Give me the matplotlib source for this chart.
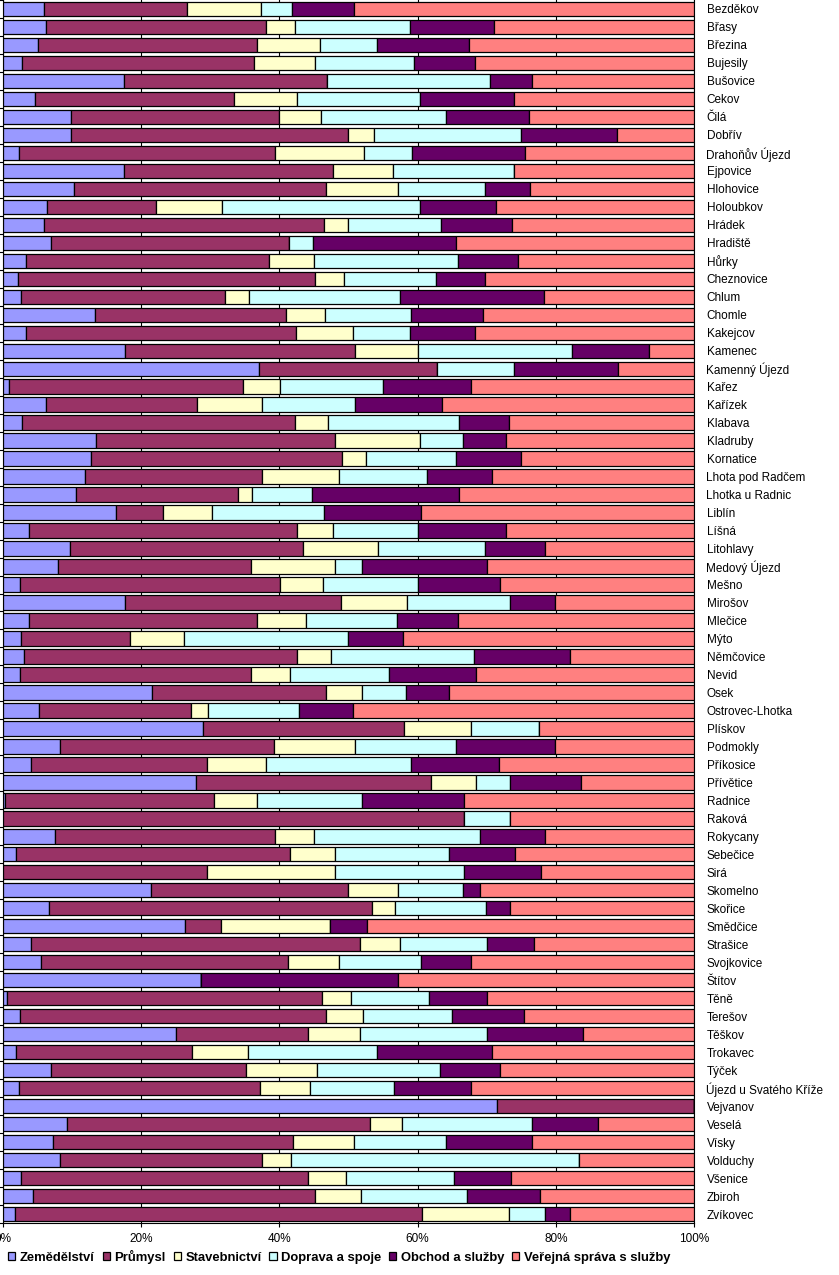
import numpy as np
import matplotlib
matplotlib.use("Agg")
import matplotlib.pyplot as plt

plt.rcParams['font.family'] = ['Liberation Sans', 'DejaVu Sans']

# obce (shora dolů)
obce = [
    "Bezděkov", "Břasy", "Březina", "Bujesily", "Bušovice", "Cekov",
    "Čilá", "Dobřív", "Drahoňův Újezd", "Ejpovice", "Hlohovice", "Holoubkov",
    "Hrádek", "Hradiště", "Hůrky", "Cheznovice", "Chlum", "Chomle",
    "Kakejcov", "Kamenec", "Kamenný Újezd", "Kařez", "Kařízek", "Klabava",
    "Kladruby", "Kornatice", "Lhota pod Radčem", "Lhotka u Radnic", "Liblín", "Líšná",
    "Litohlavy", "Medový Újezd", "Mešno", "Mirošov", "Mlečice", "Mýto",
    "Němčovice", "Nevid", "Osek", "Ostrovec-Lhotka", "Plískov", "Podmokly",
    "Příkosice", "Přívětice", "Radnice", "Raková", "Rokycany", "Sebečice",
    "Sirá", "Skomelno", "Skořice", "Smědčice", "Strašice", "Svojkovice",
    "Štítov", "Těně", "Terešov", "Těškov", "Trokavec", "Týček",
    "Újezd u Svatého Kříže", "Vejvanov", "Veselá", "Vísky", "Volduchy", "Všenice",
    "Zbiroh", "Zvíkovec",
]

zemedelstvi = [
    5.9, 6.2, 5.0, 2.7, 17.5, 4.6,
    9.9, 9.9, 2.3, 17.5, 10.3, 6.3,
    5.9, 6.9, 3.4, 2.1, 2.6, 13.3,
    3.4, 17.7, 37.1, 0.8, 6.2, 2.8,
    13.5, 12.8, 11.9, 10.6, 16.3, 3.7,
    9.7, 7.9, 2.5, 17.7, 3.7, 2.6,
    3.0, 2.4, 21.5, 5.2, 29.0, 8.2,
    4.1, 27.9, 0.3, 0.0, 7.5, 1.9,
    0.0, 21.4, 6.6, 26.3, 4.0, 5.5,
    28.6, 0.6, 2.5, 25.0, 1.9, 7.0,
    2.3, 71.5, 9.3, 7.2, 8.3, 2.6, 4.4, 1.7,
]
prumysl = [
    20.8, 31.9, 31.8, 33.6, 29.4, 28.9,
    30.0, 40.0, 37.1, 30.2, 36.4, 15.8,
    40.6, 34.5, 35.1, 43.0, 29.5, 27.6,
    39.0, 33.3, 25.7, 34.0, 21.9, 39.5,
    34.6, 36.2, 25.6, 23.4, 6.9, 38.8,
    33.7, 28.0, 37.6, 31.2, 33.1, 15.8,
    39.5, 33.5, 25.3, 22.0, 29.0, 31.0,
    25.4, 34.1, 30.3, 66.7, 31.8, 39.6,
    29.5, 28.5, 46.8, 5.2, 47.7, 35.7,
    0.0, 45.5, 44.2, 19.2, 25.5, 28.1,
    34.9, 28.5, 43.8, 34.8, 29.2, 41.5, 40.7, 59.0,
]
stavebnictvi = [
    10.6, 4.2, 9.1, 8.8, 0.0, 9.1,
    6.1, 3.8, 12.9, 8.8, 10.4, 9.6,
    3.4, 0.0, 6.5, 4.3, 3.5, 5.7,
    8.2, 9.1, 0.0, 5.3, 9.4, 4.7,
    12.3, 3.6, 11.1, 2.1, 7.1, 5.2,
    10.8, 12.1, 6.2, 9.6, 7.1, 7.8,
    4.9, 5.6, 5.1, 2.5, 9.7, 11.8,
    8.6, 6.4, 6.2, 0.0, 5.7, 6.6,
    18.6, 7.2, 3.3, 15.8, 5.8, 7.4,
    0.0, 4.2, 5.4, 7.4, 8.0, 10.4,
    7.3, 0.0, 4.7, 8.8, 4.2, 5.5, 6.7, 12.5,
]
doprava = [
    4.5, 16.6, 8.2, 14.4, 23.6, 17.7,
    18.1, 21.3, 6.9, 17.4, 12.7, 28.6,
    13.5, 3.4, 20.9, 13.3, 21.8, 12.4,
    8.3, 22.2, 11.2, 14.9, 13.5, 19.0,
    6.2, 12.9, 12.8, 8.6, 16.2, 12.4,
    15.6, 3.9, 13.8, 14.8, 13.1, 23.7,
    20.8, 14.4, 6.4, 13.1, 9.8, 14.5,
    21.0, 5.0, 15.1, 6.7, 24.0, 16.4,
    18.6, 9.5, 13.2, 0.0, 12.5, 11.9,
    0.0, 11.3, 12.9, 18.5, 18.7, 17.7,
    12.1, 0.0, 18.8, 13.3, 41.7, 15.7, 15.3, 5.3,
]
obchod = [
    9.0, 12.1, 13.3, 8.8, 6.0, 13.7,
    12.0, 13.8, 16.4, 0.0, 6.5, 11.1,
    10.3, 20.7, 8.6, 7.1, 20.9, 10.5,
    9.4, 11.2, 15.0, 12.7, 12.5, 7.2,
    6.2, 9.4, 9.4, 21.3, 14.0, 12.7,
    8.6, 18.1, 11.8, 6.6, 8.8, 8.0,
    13.9, 12.5, 6.2, 7.8, 0.0, 14.4,
    12.7, 10.2, 14.8, 0.0, 9.5, 9.6,
    11.1, 2.4, 3.5, 5.4, 6.9, 7.3,
    28.5, 8.5, 10.4, 13.8, 16.6, 8.7,
    11.1, 0.0, 9.5, 12.5, 0.0, 8.2, 10.6, 3.6,
]
verejna = [
    49.2, 29.0, 32.6, 31.7, 23.5, 26.0,
    23.9, 11.2, 24.4, 26.1, 23.7, 28.6,
    26.3, 34.5, 25.5, 30.2, 21.7, 30.5,
    31.7, 6.5, 11.0, 32.3, 36.5, 26.8,
    27.2, 25.1, 29.2, 34.0, 39.5, 27.2,
    21.6, 30.0, 28.1, 20.1, 34.2, 42.1,
    17.9, 31.6, 35.5, 49.4, 22.5, 20.1,
    28.2, 16.4, 33.3, 26.6, 21.5, 25.9,
    22.2, 31.0, 26.6, 47.3, 23.1, 32.2,
    42.9, 29.9, 24.6, 16.1, 29.3, 28.1,
    32.3, 0.0, 13.9, 23.4, 16.6, 26.5, 22.3, 17.9,
]

sektory = ["Zemědělství", "Průmysl", "Stavebnictví", "Doprava a spoje",
           "Obchod a služby", "Veřejná správa s služby"]
barvy = ["#9999FF", "#993366", "#FFFFCC", "#CCFFFF", "#660066", "#FF8080"]

data = np.array([zemedelstvi, prumysl, stavebnictvi, doprava, obchod, verejna])
podily = data / data.sum(axis=0)  # 100% skladany graf

W, H = 839, 1275
fig = plt.figure(figsize=(W / 100, H / 100), dpi=100)
ax = fig.add_axes([3 / W, 52 / H, 691 / W, 1223 / H])

y = np.arange(len(obce))
left = np.zeros(len(obce))
for i in range(len(sektory)):
    ax.barh(y, podily[i], left=left, height=0.8, color=barvy[i],
            edgecolor="black", linewidth=0.9, label=sektory[i], zorder=3)
    left += podily[i]

ax.set_xlim(0, 1)
ax.set_ylim(len(obce) - 0.5, -0.5)
ax.set_xticks(np.arange(0, 1.01, 0.2))
ax.set_xticklabels(["0%", "20%", "40%", "60%", "80%", "100%"], fontsize=8.5)
ax.grid(axis="x", color="black", linewidth=0.8, zorder=0)
ax.tick_params(axis="x", length=3, width=0.8, pad=4)

ax.set_yticks(y)
ax.set_yticklabels(obce, fontsize=8.5)
ax.yaxis.tick_right()
ax.tick_params(axis="y", which="major", length=0, pad=9)
ax.set_yticks(np.arange(-0.5, len(obce), 1), minor=True)
ax.tick_params(axis="y", which="minor", left=True, right=False,
               length=3, width=0.8)

ax.spines["top"].set_visible(False)
for s in ["left", "bottom", "right"]:
    ax.spines[s].set_linewidth(0.8)

leg = fig.legend(loc="center left", bbox_to_anchor=(3 / W, 18 / H),
                 ncol=6, frameon=False,
                 handlelength=0.55, handleheight=0.55, handletextpad=0.35,
                 columnspacing=0.6, borderaxespad=0,
                 prop={"weight": "bold", "size": 9.4})

fig.savefig("out.png", dpi=100)
